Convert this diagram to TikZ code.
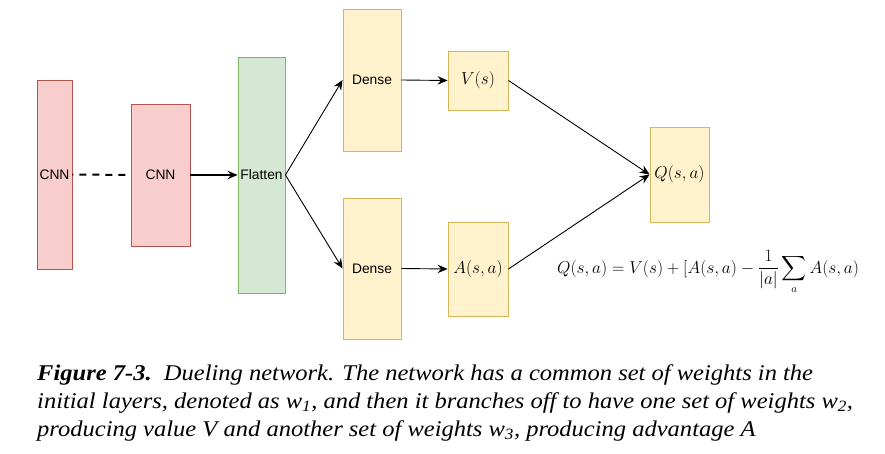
\documentclass[tikz,border=0pt]{standalone}
\usepackage{fontspec}
\usepackage{amsmath}
\usetikzlibrary{arrows.meta}
\newfontfamily\boxfont{Liberation Sans}
\newfontfamily\capfont[FakeStretch=1.09]{Liberation Serif}
\definecolor{cnnfill}{HTML}{F8CECC}
\definecolor{cnnline}{HTML}{B85450}
\definecolor{flatfill}{HTML}{D5E8D4}
\definecolor{flatline}{HTML}{82B366}
\definecolor{densefill}{HTML}{FFF2CC}
\definecolor{denseline}{HTML}{D6B656}
\tikzset{
  layer/.style={draw, line width=0.9pt, inner sep=0pt, font=\boxfont\fontsize{13.8}{14}\selectfont},
  cnnbox/.style={layer, fill=cnnfill, draw=cnnline},
  flatbox/.style={layer, fill=flatfill, draw=flatline},
  densebox/.style={layer, fill=densefill, draw=denseline},
  outbox/.style={densebox, font=\fontsize{16.5}{18}\selectfont},
  flow/.style={-{Stealth[length=10pt,width=8.5pt,inset=3.5pt]}, line width=0.9pt},
}
\begin{document}
\begin{tikzpicture}[x=1pt,y=-1pt]
\useasboundingbox[fill=white] (0,0) rectangle (885,454);

\node[cnnbox, minimum width=35pt, minimum height=189pt] (cnnA) at (54.5,174.5) {CNN};
\node[cnnbox, minimum width=59pt, minimum height=142pt] (cnnB) at (160.5,175) {CNN};
\node[flatbox, minimum width=47pt, minimum height=236pt] (flat) at (261.5,175) {};
\node[inner sep=0pt, font=\boxfont\fontsize{13.8}{14}\selectfont] (flattxt) at (flat.center) {Flatten};

\node[densebox, minimum width=58pt, minimum height=142pt] (denseV) at (372,80) {Dense};
\node[densebox, minimum width=58pt, minimum height=141pt] (denseA) at (372,268.5) {Dense};

\node[outbox, minimum width=60pt, minimum height=59pt] (val) at (478,80.5) {$V(s)$};
\node[outbox, minimum width=60pt, minimum height=94pt] (adv) at (478,269) {$A(s,a)$};
\node[outbox, minimum width=59pt, minimum height=95pt] (qval) at (679.5,174.5) {$Q(s,a)$};

\draw[line width=2pt, dash pattern=on 7pt off 6pt, dash phase=6pt] (cnnA.east) -- (cnnB.west);
\draw[flow, line width=1.5pt] (cnnB.east) -- (flat.west);
\draw[flow] (flat.east) -- (denseV.west);
\draw[flow] (flat.east) -- (denseA.west);
\draw[flow] (denseV.east) -- (val.west);
\draw[flow] (denseA.east) -- (adv.west);
\draw[flow] (val.east) -- (qval.west);
\draw[flow] (adv.east) -- (qval.west);

\node[anchor=base west, inner sep=0pt, font=\fontsize{16}{18}\selectfont] (formula) at (557,273)
  {$\displaystyle Q(s,a)=V(s)+[A(s,a)-\frac{1}{|a|}\sum_a A(s,a)$};

\begin{scope}[every node/.style={anchor=base west, inner sep=0pt, font=\capfont\itshape\fontsize{22.5}{24}\selectfont}]
\node (capA) at (37,380) {\textbf{Figure 7-3.}\ \ Dueling network. The network has a common set of weights in the};
\node (capB) at (37,408) {initial layers, denoted as w\textsubscript{1}, and then it branches off to have one set of weights w\textsubscript{2},};
\node (capC) at (37,436) {producing value V and another set of weights w\textsubscript{3}, producing advantage A};
\end{scope}
\end{tikzpicture}
\end{document}
